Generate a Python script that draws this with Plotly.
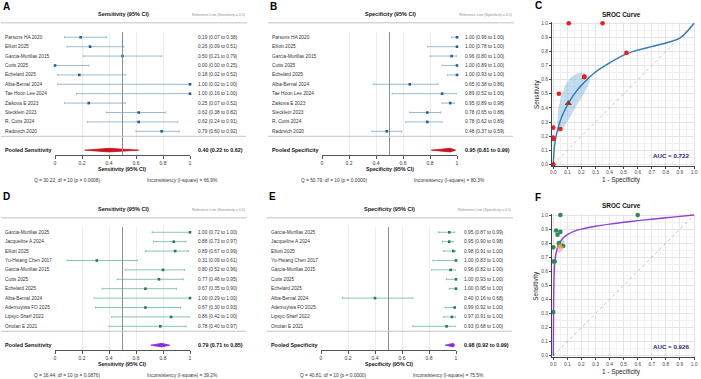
import plotly.graph_objects as go

W, H = 701, 379

# ---------------- data ----------------
studies_top = ["Parsons HA 2020", "Elliott 2025", "Garcia-Murillas 2015", "Cutts 2025",
               "Echelard 2025", "Alba-Bernal 2024", "Tae Hoon Lee 2024", "Zaikova E 2023",
               "Stecklein 2023", "R. Cutts 2024", "Radovich 2020"]
sens_a = [0.19, 0.26, 0.50, 0.00, 0.18, 1.00, 1.00, 0.25, 0.62, 0.62, 0.79]
sens_a_lo = [0.07, 0.09, 0.21, 0.00, 0.02, 0.02, 0.16, 0.07, 0.38, 0.24, 0.60]
sens_a_hi = [0.38, 0.51, 0.79, 0.25, 0.52, 1.00, 1.00, 0.52, 0.82, 0.91, 0.92]
pooled_a = [0.40, 0.22, 0.62]
q_a = "Q = 30.22; df = 10 (p = 0.0008)"
i2_a = "Inconsistency (I-square) = 66.9%"

spec_b = [1.00, 1.00, 0.96, 1.00, 1.00, 0.65, 0.89, 0.95, 0.78, 0.78, 0.48]
spec_b_lo = [0.96, 0.78, 0.80, 0.89, 0.93, 0.38, 0.52, 0.89, 0.65, 0.62, 0.37]
spec_b_hi = [1.00, 1.00, 1.00, 1.00, 1.00, 0.86, 1.00, 0.98, 0.88, 0.89, 0.59]
pooled_b = [0.95, 0.81, 0.99]
q_b = "Q = 50.79; df = 10 (p = 0.0000)"
i2_b = "Inconsistency (I-square) = 80.3%"

studies_bot = ["Garcia-Murillas 2025", "Jacqueline A 2024", "Elliott 2025", "Yu-Hsiang Chen 2017",
               "Garcia-Murillas 2015", "Cutts 2025", "Echelard 2025", "Alba-Bernal 2024",
               "Ademuyiwa FO 2025", "Lipsyc-Sharf 2022", "Ortolan E 2021"]
sens_d = [1.00, 0.88, 0.89, 0.31, 0.80, 0.77, 0.67, 1.00, 0.67, 0.86, 0.78]
sens_d_lo = [0.72, 0.73, 0.67, 0.09, 0.52, 0.46, 0.35, 0.29, 0.30, 0.42, 0.40]
sens_d_hi = [1.00, 0.97, 0.99, 0.61, 0.96, 0.95, 0.90, 1.00, 0.93, 1.00, 0.97]
pooled_d = [0.79, 0.71, 0.85]
q_d = "Q = 16.44; df = 10 (p = 0.0876)"
i2_d = "Inconsistency (I-square) = 39.2%"

spec_e = [0.95, 0.95, 0.98, 1.00, 0.96, 1.00, 1.00, 0.40, 0.99, 0.97, 0.93]
spec_e_lo = [0.87, 0.90, 0.91, 0.83, 0.82, 0.93, 0.95, 0.16, 0.92, 0.91, 0.68]
spec_e_hi = [0.99, 0.98, 1.00, 1.00, 1.00, 1.00, 1.00, 0.68, 1.00, 1.00, 1.00]
pooled_e = [0.98, 0.92, 0.99]
q_e = "Q = 40.81; df = 10 (p = 0.0000)"
i2_e = "Inconsistency (I-square) = 75.5%"

# SROC curves
sroc_c_x = [0, 0.005, 0.01, 0.02, 0.04, 0.07, 0.10, 0.15, 0.20, 0.30, 0.40, 0.50, 0.60, 0.70, 0.80, 0.90, 0.95, 1.0]
sroc_c_y = [0, 0.09, 0.14, 0.20, 0.28, 0.36, 0.42, 0.50, 0.56, 0.655, 0.72, 0.775, 0.81, 0.835, 0.86, 0.895, 0.94, 1.0]
region_c_x = [0.035, 0.028, 0.035, 0.055, 0.085, 0.125, 0.17, 0.22, 0.255, 0.26, 0.235, 0.19, 0.15, 0.11, 0.07, 0.035]
region_c_y = [0.22, 0.30, 0.39, 0.48, 0.56, 0.62, 0.645, 0.648, 0.63, 0.59, 0.53, 0.46, 0.39, 0.32, 0.255, 0.22]
summary_c = [0.107, 0.433]
auc_c = "AUC = 0.722"

sroc_f_x = [0, 0.002, 0.005, 0.01, 0.02, 0.03, 0.05, 0.08, 0.10, 0.15, 0.20, 0.30, 0.40, 0.50, 0.60, 0.70, 0.80, 0.90, 1.0]
sroc_f_y = [0, 0.35, 0.55, 0.66, 0.73, 0.77, 0.81, 0.845, 0.86, 0.885, 0.90, 0.92, 0.935, 0.948, 0.96, 0.97, 0.98, 0.99, 1.0]
region_f_x = [0.025, 0.03, 0.045, 0.065, 0.08, 0.075, 0.06, 0.04, 0.025]
region_f_y = [0.74, 0.79, 0.82, 0.83, 0.81, 0.77, 0.745, 0.73, 0.74]
summary_f = [0.048, 0.775]
auc_f = "AUC = 0.926"

axis_ticks = [0, 0.2, 0.4, 0.6, 0.8, 1]
axis_labels = ["0", "0.2", "0.4", "0.6", "0.8", "1"]

# ---------------- helpers ----------------
FONT = "Arial, Liberation Sans, Helvetica, sans-serif"


def px(x):
    return x / W


def py(y):
    return 1 - y / H


fig = go.Figure()
ann = []
shapes = []
layout = {}


def text(t, x, y, yref="paper", xanchor="center", size=4.8, color="#333", **kw):
    d = dict(text=t, x=x, y=y, xref="paper", yref=yref, xanchor=xanchor, yanchor="middle",
             showarrow=False, font=dict(size=size, color=color))
    d.update(kw)
    ann.append(d)


POOL_ROW = 12
SEP_ROW = 10.53
Y_RANGE = [12.55, -0.55]

forest = [
    dict(i=1, xoff=0, yoff=0, studies=studies_top, est=sens_a, lo=sens_a_lo, hi=sens_a_hi,
         pooled=pooled_a, q=q_a, i2=i2_a, metric="Sensitivity",
         line="#8db3d0", pt="#1f5f99", pool="#c8141e"),
    dict(i=2, xoff=267, yoff=0, studies=studies_top, est=spec_b, lo=spec_b_lo, hi=spec_b_hi,
         pooled=pooled_b, q=q_b, i2=i2_b, metric="Specificity",
         line="#8db3d0", pt="#1f5f99", pool="#c8141e"),
    dict(i=3, xoff=0, yoff=195, studies=studies_bot, est=sens_d, lo=sens_d_lo, hi=sens_d_hi,
         pooled=pooled_d, q=q_d, i2=i2_d, metric="Sensitivity",
         line="#7cc0a4", pt="#1f7a55", pool="#8a2be2"),
    dict(i=4, xoff=266, yoff=195, studies=studies_bot, est=spec_e, lo=spec_e_lo, hi=spec_e_hi,
         pooled=pooled_e, q=q_e, i2=i2_e, metric="Specificity",
         line="#7cc0a4", pt="#1f7a55", pool="#8a2be2"),
]

for p in forest:
    i = p["i"]
    xo, yo = p["xoff"], p["yoff"]
    xa = "x" if i == 1 else f"x{i}"
    ya = "y" if i == 1 else f"y{i}"
    xk = "xaxis" if i == 1 else f"xaxis{i}"
    yk = "yaxis" if i == 1 else f"yaxis{i}"
    layout[xk] = dict(domain=[px(xo + 55), px(xo + 190)], range=[0, 1], anchor=ya,
                      tickvals=axis_ticks, ticktext=axis_labels, showgrid=True,
                      gridcolor="#ececec", gridwidth=1, zeroline=False, showline=True,
                      linecolor="#555", linewidth=1, ticks="outside", ticklen=3,
                      tickcolor="#555", tickfont=dict(size=5, color="#333"),
                      automargin=False, fixedrange=True)
    layout[yk] = dict(domain=[py(yo + 155.3), py(yo + 32.1)], range=Y_RANGE, anchor=xa,
                      visible=False, showgrid=False, zeroline=False, automargin=False,
                      fixedrange=True)
    n = len(p["studies"])
    rows = list(range(n))
    # reference line at 0.5
    shapes.append(dict(type="line", xref=xa, yref=f"{ya} domain", x0=0.5, x1=0.5, y0=0, y1=1,
                       line=dict(color="#8c8c8c", width=1)))
    # separator
    shapes.append(dict(type="line", xref="paper", yref=ya, x0=px(xo + 1), x1=px(xo + 246),
                       y0=SEP_ROW, y1=SEP_ROW, line=dict(color="#c4c4c4", width=1)))
    # title bar
    shapes.append(dict(type="line", xref="paper", yref="paper", x0=px(xo + 1), x1=px(xo + 247),
                       y0=py(yo + 22.7), y1=py(yo + 22.7), line=dict(color="#d6d6d6", width=1.6)))
    # study CIs
    fig.add_trace(go.Scatter(
        x=p["est"], y=rows, xaxis=xa, yaxis=ya, mode="markers",
        marker=dict(symbol="square", size=2.6, color=p["pt"]),
        error_x=dict(type="data", symmetric=False,
                     array=[h - e for h, e in zip(p["hi"], p["est"])],
                     arrayminus=[e - l for e, l in zip(p["est"], p["lo"])],
                     color=p["line"], thickness=0.9, width=1),
        cliponaxis=False, showlegend=False, hoverinfo="skip"))
    # pooled diamond
    est, lo, hi = p["pooled"]
    hh = 0.19
    fig.add_trace(go.Scatter(
        x=[lo, est, hi, est, lo], y=[POOL_ROW, POOL_ROW - hh, POOL_ROW, POOL_ROW + hh, POOL_ROW],
        xaxis=xa, yaxis=ya, mode="lines", fill="toself", fillcolor=p["pool"],
        line=dict(color=p["pool"], width=0.8), showlegend=False, hoverinfo="skip"))
    # texts
    m = p["metric"]
    text(f"<b>{m} (95% CI)</b>", px(xo + 123), py(yo + 14.3), size=5.5, color="#111")
    text(f"Reference Line ({m} = 0.5)", px(xo + 247), py(yo + 15.2), xanchor="right",
         size=3.6, color="#8a8a8a")
    text("<b>Study</b>", px(xo + 3), -1, yref=ya, xanchor="left", size=5.4, color="#111")
    text(f"<b>{m} (95% CI)</b>", px(xo + 196), -1, yref=ya, xanchor="left", size=5.4, color="#111")
    for r, name in enumerate(p["studies"]):
        text(name, px(xo + 3), r, yref=ya, xanchor="left")
        text(f"{p['est'][r]:.2f} ({p['lo'][r]:.2f} to {p['hi'][r]:.2f})", px(xo + 196), r,
             yref=ya, xanchor="left")
    text(f"<b>Pooled {m}</b>", px(xo + 3), POOL_ROW, yref=ya, xanchor="left", size=5.4, color="#111")
    text(f"<b>{est:.2f} ({lo:.2f} to {hi:.2f})</b>", px(xo + 196), POOL_ROW, yref=ya,
         xanchor="left", size=5.4, color="#111")
    text(f"<b>{m} (95% CI)</b>", px(xo + 122.5), py(yo + 169.4), size=5.2, color="#111")
    text(p["q"], px(xo + 67), py(yo + 180.3))
    text(p["i2"], px(xo + 182), py(yo + 180.3))

# ---------------- SROC panels ----------------
sroc = [
    dict(i=5, ytop=23.3, ybot=164.3, tx=14.7, xt=180.2, pts_x=[1 - s for s in spec_b], pts_y=sens_a,
         cx=sroc_c_x, cy=sroc_c_y, rx=region_c_x, ry=region_c_y, summ=summary_c, auc=auc_c,
         curve="#2c7bb6", region="rgba(120,180,220,0.45)", pt="#ee1c1c",
         sym="triangle-up", scol="rgba(165,35,35,0.9)"),
    dict(i=6, ytop=215.0, ybot=355.7, tx=205.7, xt=371.7, pts_x=[1 - s for s in spec_e], pts_y=sens_d,
         cx=sroc_f_x, cy=sroc_f_y, rx=region_f_x, ry=region_f_y, summ=summary_f, auc=auc_f,
         curve="#8e3fd6", region="rgba(180,130,230,0.45)", pt="#2e8b57",
         sym="triangle-up", scol="#f5a623"),
]
X0, X1 = 553.3, 694.0
for s in sroc:
    i = s["i"]
    xa, ya = f"x{i}", f"y{i}"
    pxu = (X1 - X0)
    pyu = (s["ybot"] - s["ytop"])
    common = dict(dtick=0.1, tick0=0, tickformat=".1f", showgrid=True,
                  gridcolor="#e4e4e4", gridwidth=0.8,
                  minor=dict(dtick=0.05, showgrid=True, gridcolor="#f2f2f2", gridwidth=0.6),
                  zeroline=False, showline=True, linecolor="#444", linewidth=0.8,
                  ticks="outside", ticklen=2, tickcolor="#444",
                  tickfont=dict(size=4.8, color="#444"), automargin=False, fixedrange=True)
    layout[f"xaxis{i}"] = dict(domain=[px(X0 - 0.01 * pxu), px(X1 + 0.01 * pxu)], range=[-0.01, 1.01],
                               anchor=ya, **common)
    layout[f"yaxis{i}"] = dict(domain=[py(s["ybot"] + 0.01 * pyu), py(s["ytop"] - 0.01 * pyu)],
                               range=[-0.01, 1.01], anchor=xa, **common)
    fig.add_trace(go.Scatter(x=[0, 1], y=[0, 1], xaxis=xa, yaxis=ya, mode="lines",
                             line=dict(color="#b5b5b5", width=0.8, dash="dot"),
                             showlegend=False, hoverinfo="skip"))
    fig.add_trace(go.Scatter(x=s["rx"], y=s["ry"], xaxis=xa, yaxis=ya, mode="lines",
                             fill="toself", fillcolor=s["region"], line=dict(width=0),
                             showlegend=False, hoverinfo="skip"))
    fig.add_trace(go.Scatter(x=s["cx"], y=s["cy"], xaxis=xa, yaxis=ya, mode="lines",
                             line=dict(color=s["curve"], width=1.4, shape="spline", smoothing=0.6),
                             showlegend=False, hoverinfo="skip"))
    fig.add_trace(go.Scatter(x=s["pts_x"], y=s["pts_y"], xaxis=xa, yaxis=ya, mode="markers",
                             marker=dict(size=4.6, color=s["pt"]), cliponaxis=False,
                             showlegend=False, hoverinfo="skip"))
    fig.add_trace(go.Scatter(x=[s["summ"][0]], y=[s["summ"][1]], xaxis=xa, yaxis=ya, mode="markers",
                             marker=dict(size=6.5, color=s["scol"], symbol=s["sym"]),
                             cliponaxis=False, showlegend=False, hoverinfo="skip"))
    text("<b>SROC Curve</b>", px(621), py(s["tx"]), size=6.4, color="#111")
    text("1 - Specificity", px(621), py(s["xt"]), size=6.4, color="#222")
    text("Sensitivity", px(536.3), py((s["ytop"] + s["ybot"]) / 2), size=6.4, color="#222",
         textangle=-90)
    text(f"<b>{s['auc']}</b>", px(690.5), py(s["ybot"] - 9.3), xanchor="right", size=6.2,
         color="#1f2a7a")

# panel letters
for letter, x, y in [("A", 0.5, 6), ("B", 267.5, 6), ("C", 532.5, 5.5),
                     ("D", 0.5, 196), ("E", 266.5, 196), ("F", 532.5, 197)]:
    text(f"<b>{letter}</b>", px(x), py(y), xanchor="left", size=10, color="#000")

fig.update_layout(template="none", width=W, height=H, margin=dict(l=0, r=0, t=0, b=0, pad=0),
                  paper_bgcolor="white", plot_bgcolor="white",
                  font=dict(family=FONT, color="#333"), showlegend=False,
                  annotations=ann, shapes=shapes, **layout)

fig.write_html("out.html")
